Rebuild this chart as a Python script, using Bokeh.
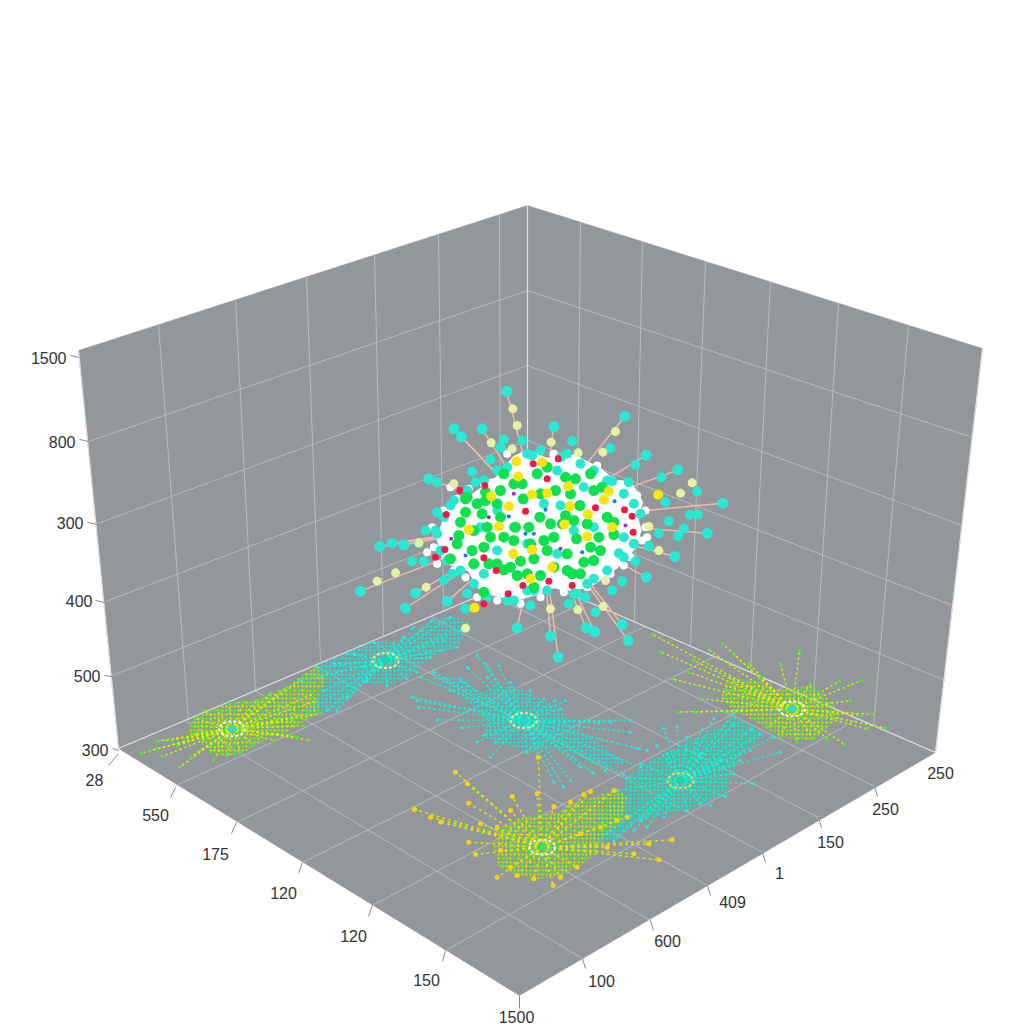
from bokeh.plotting import figure
from bokeh.embed import file_html
from bokeh.resources import INLINE
from bokeh.core.properties import value
from bokeh.models import Range1d

# ---- read values, in picture units ----
LEFT_WALL_X=[78,527,527,118]; LEFT_WALL_Y=[350,205,575,748]
RIGHT_WALL_X=[527,982,935,527]; RIGHT_WALL_Y=[205,348,752,575]
FLOOR_X=[118,527,935,519]; FLOOR_Y=[748,575,752,995]

GRID_A=[(88,441,527,290),(97,523,527,365),(105,601,527,440),(112,675,527,510),
        (527,290,972,437),(527,365,962,525),(527,440,952,605),(527,510,945,680),
        (158,324,188,720),(235,299,255,690),(306,276,320,660),(374,254,383,635),(438,234,443,610),(499,214,500,586),
        (580,222,576,597),(642,241,634,620),(705,261,690,645),(770,281,750,672),(838,303,813,699),(908,325,873,725)]
GRID_F=[(175,785,587,601),(236,822,644,626),(302,862,714,656),(372,905,784,686),(445,950,858,718),
        (582,958,185,720),(650,920,254,690),(707,885,314,665),(762,852,371,641),(818,817,430,616),(874,786,486,592)]
EDGES=[(118,748,527,575),(527,575,935,752),(527,205,527,575),(78,350,118,748),(982,348,935,752)]
TICKS=[(70,355,78,357),(79,439,88,441),(87,522,97,524),(95,600,104,602),(104,675,112,676),(112,748,118,750),
       (118,753,108,765),(175,787,170,797),(236,822,231,833),(302,862,298,873),(372,905,368,916),(445,950,442,961),
       (519,995,519,1008),(582,958,585,968),(650,920,653,930),(707,885,710,895),(762,852,765,862),(818,817,821,827),(874,786,877,796)]

Z_LABELS=["1500","800","300","400","500","300"]
Z_LX=[66,75,83,92,100,108]; Z_LY=[357,441,522,600,675,749]
L_LABELS=["28","550","175","120","120","150"]
L_LX=[94,155,215,283,353,426]; L_LY=[779,814,853,892,935,979]
R_LABELS=["250","250","150","1","409","600","100","1500"]
R_LX=[940,885,830,779,732,667,601,516]; R_LY=[772,808,841,872,901,940,980,1016]

# central cloud, read on a 3x crop whose corner is (340,370)
CX0,CY0=340,370
HUB=(600,450)
BLOB=[(470,320),(520,260),(560,240),(620,265),(700,255),(780,295),(820,330),(870,335),(905,395),(890,440),(900,480),(885,530),(830,590),(760,640),(700,660),(640,650),(590,670),(520,690),(420,660),(385,600),(310,575),(290,500),(330,400),(400,370)]
WHITE=[(455,335),(510,290),(590,255),(640,250),(690,270),(770,285),(840,345),(890,375),(915,420),(915,470),(905,510),(870,560),(850,585),(790,620),(740,650),(670,665),(600,680),(540,700),(470,690),(410,680),(375,620),(340,600),(290,580),(280,530),(275,470),(310,420),(350,385),(385,355),(430,340),(330,350),(260,545),(920,500),(810,610),(500,250)]
TIP=[(498,62),(340,175),(363,199),(425,175),(640,168),(853,138),(917,254),(1012,298),(1147,398),(1100,488),(1003,558),(917,620),(863,810),(845,762),(762,783),(737,772),(653,860),(630,797),(530,772),(320,692),(195,713),(60,662),(118,528),(155,518),(190,523),(265,325),(225,668)]
TEAL=[(545,210),(490,207),(480,232),(450,268),(395,303),(405,335),(290,335),(330,405),(290,425),(255,480),(285,480),(235,518),(215,572),(250,572),(310,630),(335,610),(380,668),(375,715),(520,690),(570,705),(685,700),(710,670),(735,680),(765,725),(760,625),(845,632),(815,660),(885,573),(835,548),(925,527),(955,488),(1013,497),(1030,475),(1048,433),(1072,433),(985,452),(975,395),(1070,363),(963,320),(885,283),(815,332),(865,335),(810,233),(695,212),(575,255),(650,300),(680,250),(470,420),(520,470),(610,400),(660,405),(700,480),(650,550),(560,520),(470,540),(420,470),(730,350),(760,470),(850,500),(500,290),(430,610),(560,660),
      (560,250),(600,240),(660,260),(720,280),(760,300),(800,330),(850,370),(880,400),(900,430),(880,520),(850,560),(800,600),(740,640),(700,670),(620,660),(580,660),(500,690),(440,680),(400,640),(360,600),(320,570),(300,540),(290,490),(310,440),(340,390),(380,360),(430,330),(470,300)]
PALE=[(517,115),(530,165),(452,217),(632,215),(825,183),(787,245),(713,247),(1055,337),(1020,368),(925,468),(955,540),(795,630),(788,708),(712,718),(630,715),(375,773),(257,650),(165,607),(110,632),(235,517),(340,340),(515,235)]
GREEN=[(590,310),(620,290),(490,310),(480,360),(545,340),(435,365),(435,390),(375,385),(375,425),(360,455),(425,430),(480,440),(548,385),(598,440),(645,360),(675,320),(705,325),(750,310),(785,350),(718,405),(675,435),(630,460),(525,470),(490,500),(450,500),(565,470),(430,530),(395,540),(330,565),(355,495),(400,580),(445,580),(490,598),(530,615),(580,565),(540,572),(600,615),(580,650),(640,590),(680,550),(708,505),(775,500),(820,492),(820,455),(760,570),(730,575),(695,610),(720,610),(780,540),(640,500),(610,510),(430,665),(380,380),(665,460),
       (440,470),(400,480),(470,580),(510,590),(560,610),(620,540),(680,600),(750,530),(800,440),(760,360),(690,370),(600,370),(520,340),(470,400),(410,400),(350,520),(520,510),(570,520),(740,460),(700,450)]
RED=[(578,280),(653,265),(433,345),(620,325),(765,412),(852,418),(875,437),(878,485),(555,422),(317,432),(313,537),(285,560),(430,562),(467,600),(503,670),(430,700),(547,645),(625,632),(695,645),(358,360)]
YELLOW=[(528,273),(605,275),(533,318),(683,347),(805,362),(790,388),(953,373),(575,372),(620,368),(505,408),(688,407),(452,377),(742,432),(385,478),(518,550),(575,538),(740,498),(635,590),(475,468),(815,470),(402,712),(570,625),(672,462)]
BLUE=[(615,418),(822,392),(505,438),(375,555),(725,545),(555,490),(580,490)]
PURPLE=[(520,370),(660,535),(445,440),(855,465),(332,505)]

# floor clusters: hub and read spoke ends
A_O=(120,610,3); A_HUB=(335,355)
A_BODY=[(215,325),(325,278),(410,268),(500,225),(590,165),(620,200),(590,270),(600,305),(540,340),(490,370),(440,385),(370,425),(320,437),(270,425),(230,385),(205,370)]
A_END=[(225,325),(250,300),(290,300),(325,280),(370,275),(410,270),(450,250),(500,230),(540,210),(580,250),(590,270),(560,310),(520,330),(600,310),(510,375),(460,390),(400,400),(360,425),(320,435),(270,425),(240,420),(210,440),(178,470),(190,385),(170,405),(125,438),(62,428),(113,392),(215,370),(230,345),(85,422),(135,390),(155,390),(110,415),(280,448),(530,380),(563,388),(550,345)]
B_HUB=(795,150)
B_BODY=[(590,165),(680,125),(760,90),(830,100),(900,60),(935,30),(1000,15),(1040,40),(1020,100),(930,140),(880,185),(860,205),(800,225),(720,215),(660,290),(620,305),(600,305),(590,270),(620,200)]
B_END=[(700,130),(760,95),(820,100),(900,60),(935,30),(990,20),(1020,60),(1010,110),(930,140),(890,185),(860,205),(800,225),(740,210),(700,230),(650,300),(620,300),(570,300),(540,210),(590,170),(640,160),(680,130),(880,50),(1040,40),(970,90),(960,120),(850,80),(730,170),(680,260),(610,240),(600,200)]
C_O=(400,620,3); C_HUB=(370,300)
C_BODY=[(235,215),(340,195),(430,240),(480,265),(510,310),(600,370),(680,430),(620,440),(520,400),(460,380),(380,395),(290,365),(250,345),(260,300),(150,200),(90,170),(190,170)]
C_END=[(230,105),(255,128),(295,135),(330,185),(100,155),(60,170),(200,140),(35,230),(50,240),(55,260),(110,298),(185,322),(230,365),(270,410),(465,240),(495,240),(390,210),(630,305),(595,307),(690,300),(690,335),(740,390),(715,385),(720,440),(670,462),(615,450),(578,457),(540,440),(510,480),(490,500),(460,485),(380,395),(415,410),(285,365),(250,345),(480,265),(430,235),(260,170),(180,180),(150,210)]
D_HUB=(840,480)
D_BODY=[(680,470),(740,425),(800,395),(870,360),(960,320),(1000,290),(1060,320),(1090,345),(1020,400),(990,460),(975,520),(880,560),(800,580),(720,600),(650,650),(590,670),(570,620),(620,560),(670,510)]
D_END=[(830,318),(790,323),(768,375),(905,328),(940,295),(1000,280),(1055,325),(1080,340),(1140,395),(1120,350),(1050,390),(1000,460),(1060,490),(975,528),(930,555),(860,570),(790,590),(720,600),(700,630),(620,640),(650,510),(680,470),(720,430),(800,400),(860,350),(1000,310),(900,550),(740,620),(640,660),(960,420),(1020,420),(900,400)]
E_HUB=(1175,265)
E_BODY=[(985,170),(1080,185),(1130,210),(1230,195),(1290,240),(1320,290),(1270,330),(1240,360),(1140,350),(1060,300),(1000,270),(960,230)]
E_END=[(757,42),(782,95),(815,175),(830,275),(885,275),(865,155),(880,120),(965,68),(925,88),(1000,100),(1045,130),(1140,130),(1197,92),(1230,190),(1317,182),(1383,180),(1350,240),(1417,282),(1385,285),(1455,323),(1400,325),(1332,372),(1280,355),(1240,355),(1190,365),(1140,350),(975,275),(905,235),(1030,210),(1080,170),(1100,320)]
F_HUB=(425,680)
F_BODY=[(300,620),(370,590),(470,575),(540,540),(650,510),(680,530),(660,600),(600,660),(590,700),(530,740),(470,770),(400,775),(350,765),(295,740),(280,680)]
F_END=[(413,410),(165,455),(200,490),(42,567),(205,548),(335,528),(570,513),(550,522),(815,658),(775,718),(458,795),(225,702),(205,665),(350,765),(530,740),(680,590),(460,558),(330,570),(290,770),(400,775),(510,545),(640,510),(650,600),(745,670),(700,700),(240,610),(90,590),(120,605),(410,520),(540,640),(290,620),(330,740),(600,620),(620,680),(480,770),(300,690)]

WALL="#93969b"; GRID="#b7babe"; EDGE="#dfe1e3"; TXT="#333333"; TICK="#8a8a8a"

def segs(items):
    return [[s[0],s[2]] for s in items],[[s[1],s[3]] for s in items]
def conv(pts,o):
    return [x/o[2]+o[0] for x,_ in pts],[y/o[2]+o[1] for _,y in pts]

p=figure(width=1024,height=1024,x_range=Range1d(0,1024),y_range=Range1d(1024,0),
         toolbar_location=None,output_backend="svg",min_border=0,outline_line_color=None,background_fill_color="white")
p.axis.visible=False; p.grid.visible=False

p.patches([LEFT_WALL_X,RIGHT_WALL_X,FLOOR_X],[LEFT_WALL_Y,RIGHT_WALL_Y,FLOOR_Y],fill_color=WALL,line_color=WALL,line_width=0.5)
x,y=segs(GRID_A); p.multi_line(x,y,line_color=GRID,line_width=1)
x,y=segs(GRID_F); p.multi_line(x,y,line_color=GRID,line_width=1)
x,y=segs(EDGES); p.multi_line(x,y,line_color=EDGE,line_width=1.2)
x,y=segs(TICKS); p.multi_line(x,y,line_color=TICK,line_width=1)

def label(xs,ys,t,align):
    p.text(xs,ys,text=t,text_font=value("Liberation Sans"),text_font_size=value("16px"),text_color=TXT,text_align=align,text_baseline="middle")
label(Z_LX,Z_LY,Z_LABELS,"right")
label(L_LX,L_LY,L_LABELS,"center")
label(R_LX,R_LY,R_LABELS,"center")

def body(pts,o,base,dots,sc,second=None):
    a,b=conv(pts,o)
    p.patch(a,b,fill_color=base,fill_alpha=0.3,line_color=None)
    p.patch(a,b,fill_alpha=0,line_color=None,hatch_pattern="dot",hatch_color=dots,hatch_scale=sc,hatch_weight=1.6)
    if second:
        p.patch(a,b,fill_alpha=0,line_color=None,hatch_pattern="dot",hatch_color=second,hatch_scale=7,hatch_weight=1.6)

def cluster(hub,ends,o,colors,tip,size,ring):
    ex,ey=conv(ends,o); hx,hy=conv([hub],o); hx,hy=hx[0],hy[0]
    for col,w,d in colors:
        p.multi_line([[hx,a] for a in ex],[[hy,b] for b in ey],line_color=col,line_width=w,line_dash=d,line_cap="round")
    p.scatter(ex,ey,size=size,color=tip,line_color=None)
    p.ellipse([hx],[hy],width=26,height=15,fill_color=None,line_color=ring[0],line_width=2,line_dash="3 2")
    p.ellipse([hx],[hy],width=11,height=6,fill_color=ring[1],line_color=None)

CY="#1ff0e2"
TEALS=[("#16e0b0",1.4,"1 6"),(CY,1.4,"1 4")]
YG=[("#4be03a",1.4,"1 6"),("#f4e80a",1.4,"1 4")]
YY=[("#58e23a",1.4,"1 7"),("#fadc0a",1.6,"1 5")]
body(A_BODY,A_O,"#79c455","#f2e80a",4,"#42e03a")
body(B_BODY,A_O,"#40bcae",CY,4)
body(C_BODY,C_O,"#40bcae",CY,4)
body(D_BODY,C_O,"#40bcae",CY,4,"#18dc98")
body(E_BODY,C_O,"#79c455","#f2e80a",4,"#42e03a")
body(F_BODY,C_O,"#79c455","#f6e20a",4,"#42e03a")
cluster(A_HUB,A_END,A_O,YG,"#5fe03c",3.5,("#e8fbf5","#27e0c0"))
cluster(B_HUB,B_END,A_O,TEALS,CY,3,("#eef080","#1cd8a8"))
cluster(C_HUB,C_END,C_O,TEALS,CY,3,("#eef080","#1cd8c0"))
cluster(D_HUB,D_END,C_O,TEALS,CY,3,("#f2d860","#18d8a8"))
cluster(E_HUB,E_END,C_O,YG,"#5fe03c",3.5,("#e8fbf5","#27e0c0"))
cluster(F_HUB,F_END,C_O,YY,"#f8d20a",5,("#d8f9f5","#38e070"))

o=(CX0,CY0,3)
hx,hy=conv([HUB],o)
tx,ty=conv(TIP,o)
p.multi_line([[hx[0],a] for a in tx],[[hy[0],b] for b in ty],line_color="#efb9ae",line_width=1.5)
bx,by=conv(BLOB,o)
p.patch(bx,by,fill_color="white",line_color="white",line_width=2)
for pts,c,s in [(WHITE,"#ffffff",8),(TEAL,"#28e8d2",10),(TIP,"#2ce6d6",11),(PALE,"#e4f2a4",9),(GREEN,"#0fe050",11),(YELLOW,"#fae60c",10),(RED,"#f41848",7),(BLUE,"#1878f0",4),(PURPLE,"#9a30c8",4)]:
    a,b=conv(pts,o)
    p.scatter(a,b,size=s,color=c,line_color=None)

open("out.html","w").write(file_html(p,INLINE))
